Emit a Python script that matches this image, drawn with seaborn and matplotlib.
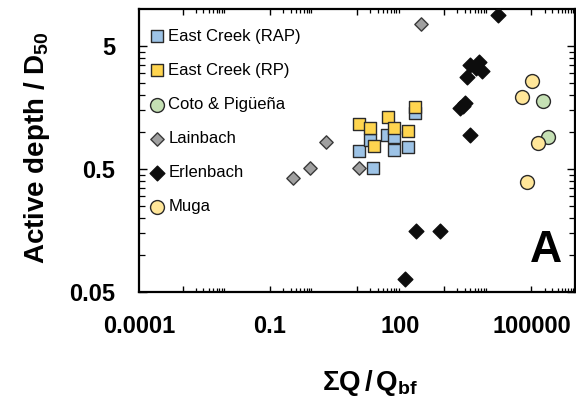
import numpy as np
import pandas as pd
import matplotlib
matplotlib.use("Agg")
import matplotlib.pyplot as plt
from matplotlib.ticker import FixedLocator, NullFormatter
import seaborn as sns

sns.set_theme(style="white")
plt.rcParams["font.family"] = ["Liberation Sans", "DejaVu Sans"]
plt.rcParams["mathtext.fontset"] = "custom"
plt.rcParams["mathtext.rm"] = "Liberation Sans"
plt.rcParams["mathtext.bf"] = "Liberation Sans:bold"
plt.rcParams["mathtext.it"] = "Liberation Sans:italic"
for key in ["text.color", "axes.labelcolor", "xtick.color", "ytick.color", "axes.edgecolor"]:
    plt.rcParams[key] = "black"

# Cumulative discharge ratio (ΣQ/Qbf) and active depth / D50 per site
rap_q = [11.3, 23.7, 19.9, 48, 70.6, 70.6, 145, 214]
rap_d = [0.705, 0.507, 0.861, 0.946, 0.916, 0.714, 0.751, 1.42]
rp_q = [11.3, 19.9, 24.5, 52.2, 70.6, 145, 214]
rp_d = [1.155, 1.07, 0.774, 1.33, 1.07, 1.02, 1.61]
coto_q = [182000, 244000]
coto_d = [1.79, 0.916]
lain_q = [0.346, 0.836, 1.95, 10.9, 289]
lain_d = [0.421, 0.507, 0.834, 0.507, 7.55]
erl_q = [17400, 3910, 6280, 3330, 7360, 5360, 3000, 2300, 2630, 3910, 222, 802, 126]
erl_d = [8.94, 3.51, 3.69, 2.80, 3.13, 3.31, 1.71, 1.56, 1.63, 0.946, 0.158, 0.158, 0.0634]
muga_q = [105000, 60000, 144000, 78000]
muga_d = [2.61, 1.94, 0.809, 0.390]

sites = ["East Creek (RAP)", "East Creek (RP)", "Coto & Pigüeña",
         "Lainbach", "Erlenbach", "Muga"]
x_tick_labels = ["0.0001", "0.1", "100", "100000"]
x_tick_values = [1e-4, 1e-1, 1e2, 1e5]
y_tick_labels = ["0.05", "0.5", "5"]
y_tick_values = [0.05, 0.5, 5]

frames = []
for name, q, d in zip(sites,
                      [rap_q, rp_q, coto_q, lain_q, erl_q, muga_q],
                      [rap_d, rp_d, coto_d, lain_d, erl_d, muga_d]):
    frames.append(pd.DataFrame({"q": q, "d": d, "site": name}))
df = pd.concat(frames, ignore_index=True)

styles = {
    "East Creek (RAP)": dict(marker="s", s=82, color="#9DC3E6", edgecolor="#2A2A2A"),
    "East Creek (RP)": dict(marker="s", s=82, color="#FFD54F", edgecolor="#2A2A2A"),
    "Coto & Pigüeña": dict(marker="o", s=100, color="#C5E0B4", edgecolor="#2A2A2A"),
    "Lainbach": dict(marker="D", s=46, color="#A0A0A0", edgecolor="#3A3A3A"),
    "Erlenbach": dict(marker="D", s=56, color="#0D0D0D", edgecolor="#0D0D0D"),
    "Muga": dict(marker="o", s=100, color="#FFE699", edgecolor="#2A2A2A"),
}

fig = plt.figure(figsize=(5.76, 4.07), dpi=100)
ax = fig.add_axes([139 / 576, (407 - 292) / 407, 436 / 576, 283 / 407])

for name in sites:
    st = styles[name]
    sns.scatterplot(data=df[df["site"] == name], x="q", y="d", ax=ax,
                    marker=st["marker"], s=st["s"], color=st["color"],
                    edgecolor=st["edgecolor"], linewidth=1.0, label=name,
                    zorder=3)

ax.set_xscale("log")
ax.set_yscale("log")
ax.set_xlim(1e-4, 1e6)
ax.set_ylim(0.05, 10)

# tick marks: major every second decade on x, every decade on y, with k*major minors
x_major = [1e-3, 1e-1, 1e1, 1e3, 1e5]
x_minor = [k * m for m in x_major for k in range(2, 10)]
ax.xaxis.set_major_locator(FixedLocator(x_major))
ax.xaxis.set_minor_locator(FixedLocator(x_minor))
ax.xaxis.set_major_formatter(NullFormatter())
ax.xaxis.set_minor_formatter(NullFormatter())

y_minor = [k * m for m in y_tick_values for k in range(2, 10) if k * m < 10]
ax.yaxis.set_major_locator(FixedLocator(y_tick_values))
ax.yaxis.set_minor_locator(FixedLocator(y_minor))
ax.set_yticklabels(y_tick_labels)
ax.yaxis.set_minor_formatter(NullFormatter())

ax.tick_params(axis="x", which="major", direction="in", length=4.5, width=1.0,
               top=True, bottom=True)
ax.tick_params(axis="x", which="minor", direction="in", length=3, width=0.9,
               top=True, bottom=True)
ax.tick_params(axis="y", which="major", direction="in", length=6, width=1.0,
               left=True, right=True, pad=17, labelsize=17)
ax.tick_params(axis="y", which="minor", direction="in", length=4.5, width=0.9,
               left=True, right=True)
for lab in ax.get_yticklabels():
    lab.set_fontweight("bold")

# x value labels sit on their own decades, below the axis
xlab_trans = ax.get_xaxis_transform()
for val, txt in zip(x_tick_values, x_tick_labels):
    ax.text(val, -0.083, txt, transform=xlab_trans, ha="center", va="top",
            fontsize=17, fontweight="bold", clip_on=False)

for sp in ax.spines.values():
    sp.set_linewidth(1.6)
    sp.set_color("black")

ax.set_xlabel(r"$\mathbf{\Sigma Q\,/\,Q_{bf}}$", fontsize=20)
ax.set_ylabel(r"$\mathbf{Active\ depth\ /\ D_{50}}$", fontsize=20)
ax.xaxis.set_label_coords(0.53, -0.27)
ax.yaxis.set_label_coords(-0.20, 0.51)

ax.text(0.933, 0.148, "A", transform=ax.transAxes, fontsize=32,
        fontweight="bold", ha="center", va="center")

leg = ax.legend(loc="upper left", bbox_to_anchor=(0.0, 0.966), frameon=False,
                fontsize=12, labelspacing=1.15, handlelength=0.9,
                handletextpad=0.25, borderaxespad=0.3, borderpad=0.3)

fig.savefig("out.png", dpi=100)
